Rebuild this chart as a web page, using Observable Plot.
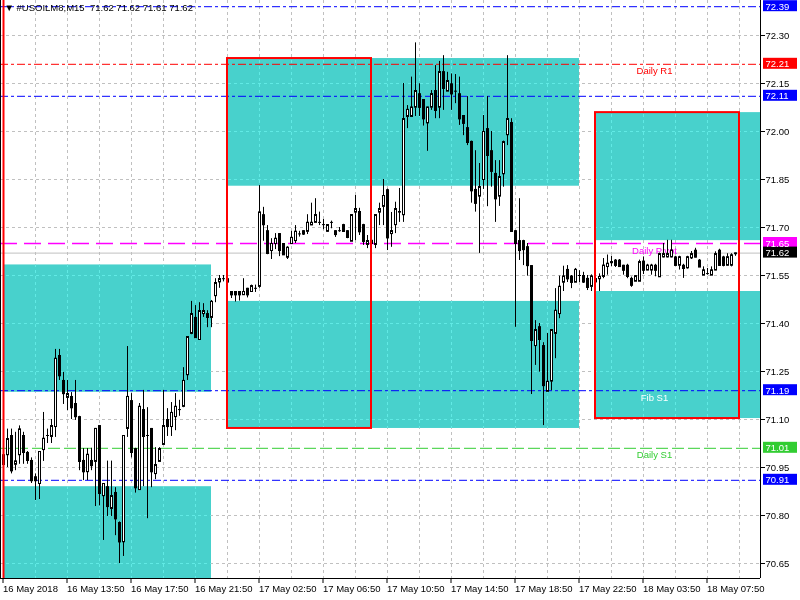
<!DOCTYPE html>
<html>
<head>
<meta charset="utf-8">
<script src="https://cdn.jsdelivr.net/npm/d3@7"></script>
<script src="https://cdn.jsdelivr.net/npm/@observablehq/plot@0.6"></script>
<style>
  html, body { margin: 0; padding: 0; background: white; }
</style>
</head>
<body>
<div id="chart"></div>
<script>
// ---------- DATA ----------
const titleText = "\u25BC #USOILM8,M15  71.62 71.62 71.61 71.62";

const xLabelIdx = [0, 16, 32, 48, 64, 80, 96, 112, 128, 144, 160, 176];
const xLabels = ["16 May 2018", "16 May 13:50", "16 May 17:50", "16 May 21:50", "17 May 02:50", "17 May 06:50",
  "17 May 10:50", "17 May 14:50", "17 May 18:50", "17 May 22:50", "18 May 03:50", "18 May 07:50"];
const gridIdx = d3.range(0, 185, 8);
const yTicks = [72.30, 72.15, 72.00, 71.85, 71.70, 71.55, 71.40, 71.25, 71.10, 70.95, 70.80, 70.65];

const openP = [
70.99, 70.99, 71.05, 70.96, 70.99, 71.05, 70.997, 70.972, 70.921, 70.90,
71.006, 71.05, 71.047, 71.078, 71.30, 71.222, 71.169, 71.172, 71.15, 71.109,
70.972, 70.937, 70.972, 70.969, 71.081, 70.862, 70.89, 70.822, 70.872, 70.778,
70.718, 71.072, 71.159, 71.009, 70.881, 71.131, 71.05, 71.072, 70.931, 70.969,
71.022, 71.10, 71.078, 71.109, 71.131, 71.141, 71.24, 71.369, 71.419, 71.35,
71.431, 71.431, 71.419, 71.487, 71.53, 71.54, 71.54, 71.50, 71.50, 71.50,
71.49, 71.51, 71.50, 71.51, 71.516, 71.74, 71.69, 71.628, 71.65, 71.681,
71.65, 71.607, 71.65, 71.659, 71.68, 71.69, 71.688, 71.708, 71.716, 71.716,
71.709, 71.688, 71.716, 71.69, 71.69, 71.709, 71.69, 71.657, 71.748, 71.75,
71.709, 71.647, 71.66, 71.647, 71.748, 71.766, 71.818, 71.681, 71.709, 71.748,
71.74, 72.047, 72.047, 72.076, 72.118, 72.10, 72.027, 72.076, 72.128, 72.076,
72.187, 72.126, 72.149, 72.126, 72.118, 72.05, 72.012, 71.969, 71.819, 71.798,
71.85, 72.009, 71.94, 71.869, 71.798, 71.868, 71.99, 72.028, 71.69, 71.659,
71.659, 71.64, 71.581, 71.331, 71.39, 71.331, 71.188, 71.22, 71.369, 71.431,
71.529, 71.569, 71.548, 71.529, 71.55, 71.55, 71.541, 71.516, 71.53, 71.54,
71.547, 71.578, 71.59, 71.598, 71.598, 71.582, 71.582, 71.541, 71.532, 71.532,
71.595, 71.567, 71.567, 71.582, 71.546, 71.608, 71.608, 71.608, 71.608, 71.582,
71.582, 71.574, 71.605, 71.629, 71.598, 71.551, 71.556, 71.551, 71.567, 71.629,
71.608, 71.582, 71.582, 71.618
];
const highP = [
71.00, 71.07, 71.07, 71.06, 71.08, 71.06, 71.00, 70.98, 70.93, 71.00,
71.122, 71.07, 71.10, 71.319, 71.319, 71.247, 71.222, 71.184, 71.222, 71.11,
71.009, 71.009, 71.01, 71.072, 71.08, 70.90, 70.97, 70.97, 70.887, 70.78,
71.05, 71.328, 71.181, 71.01, 71.15, 71.191, 71.137, 71.072, 71.012, 71.012,
71.191, 71.134, 71.153, 71.181, 71.16, 71.262, 71.359, 71.469, 71.456, 71.465,
71.462, 71.44, 71.472, 71.54, 71.55, 71.55, 71.55, 71.50, 71.50, 71.50,
71.54, 71.51, 71.52, 71.52, 71.831, 71.763, 71.706, 71.665, 71.681, 71.681,
71.65, 71.64, 71.688, 71.706, 71.688, 71.69, 71.74, 71.776, 71.79, 71.748,
71.725, 71.709, 71.72, 71.69, 71.70, 71.71, 71.69, 71.74, 71.80, 71.76,
71.71, 71.675, 71.67, 71.74, 71.776, 71.85, 71.82, 71.747, 71.779, 71.822,
72.15, 72.081, 72.17, 72.277, 72.149, 72.10, 72.076, 72.128, 72.206, 72.219,
72.237, 72.185, 72.18, 72.178, 72.17, 72.05, 72.109, 71.97, 71.94, 71.90,
72.05, 72.109, 72.00, 71.909, 71.909, 71.97, 72.237, 72.04, 71.69, 71.79,
71.66, 71.65, 71.58, 71.409, 71.40, 71.34, 71.369, 71.381, 71.509, 71.548,
71.579, 71.581, 71.55, 71.572, 71.565, 71.56, 71.55, 71.552, 71.55, 71.555,
71.603, 71.614, 71.61, 71.60, 71.60, 71.582, 71.585, 71.545, 71.549, 71.598,
71.608, 71.585, 71.585, 71.585, 71.62, 71.65, 71.66, 71.66, 71.61, 71.61,
71.585, 71.61, 71.625, 71.635, 71.60, 71.577, 71.572, 71.577, 71.624, 71.632,
71.61, 71.618, 71.618, 71.62
];
const lowP = [
70.94, 70.95, 70.93, 70.94, 70.96, 70.96, 70.96, 70.90, 70.847, 70.85,
70.969, 71.025, 71.025, 71.044, 71.222, 71.147, 71.128, 71.10, 71.097, 70.94,
70.909, 70.909, 70.94, 70.828, 70.83, 70.722, 70.797, 70.797, 70.737, 70.65,
70.672, 71.044, 70.98, 70.87, 70.88, 70.89, 70.79, 70.887, 70.912, 70.969,
71.022, 71.047, 71.047, 71.065, 71.11, 71.137, 71.222, 71.365, 71.356, 71.347,
71.419, 71.387, 71.387, 71.465, 71.51, 71.53, 71.52, 71.478, 71.467, 71.47,
71.49, 71.48, 71.50, 71.497, 71.51, 71.657, 71.615, 71.60, 71.631, 71.609,
71.615, 71.60, 71.647, 71.65, 71.67, 71.675, 71.678, 71.708, 71.716, 71.706,
71.693, 71.685, 71.696, 71.669, 71.685, 71.685, 71.665, 71.657, 71.659, 71.675,
71.644, 71.634, 71.64, 71.634, 71.706, 71.706, 71.628, 71.638, 71.681, 71.716,
71.716, 72.009, 72.047, 72.047, 72.047, 72.017, 71.938, 72.066, 72.04, 72.04,
72.066, 72.126, 72.066, 72.087, 72.019, 71.987, 71.956, 71.776, 71.748, 71.619,
71.819, 71.765, 71.826, 71.716, 71.766, 71.826, 71.956, 71.688, 71.388, 71.597,
71.581, 71.548, 71.178, 71.269, 71.248, 71.081, 71.188, 71.19, 71.29, 71.415,
71.50, 71.528, 71.509, 71.529, 71.528, 71.525, 71.503, 71.50, 71.52, 71.50,
71.54, 71.551, 71.578, 71.575, 71.578, 71.551, 71.54, 71.513, 71.532, 71.532,
71.553, 71.565, 71.551, 71.546, 71.546, 71.605, 71.605, 71.605, 71.58, 71.567,
71.541, 71.57, 71.60, 71.605, 71.575, 71.55, 71.551, 71.55, 71.565, 71.58,
71.577, 71.58, 71.577, 71.61
];
const closeP = [
70.96, 71.04, 70.94, 70.97, 71.07, 70.997, 70.972, 70.909, 70.909, 71.00,
71.041, 71.05, 71.081, 71.291, 71.237, 71.181, 71.181, 71.137, 71.109, 70.969,
70.937, 70.991, 70.956, 71.072, 70.869, 70.90, 70.828, 70.862, 70.79, 70.718,
71.05, 71.172, 70.997, 70.887, 71.141, 71.047, 71.05, 70.937, 70.959, 71.009,
71.081, 71.078, 71.122, 71.141, 71.131, 71.222, 71.359, 71.431, 71.356, 71.44,
71.44, 71.419, 71.469, 71.528, 71.54, 71.54, 71.53, 71.49, 71.49, 71.49,
71.50, 71.49, 71.518, 71.51, 71.748, 71.709, 71.619, 71.65, 71.666, 71.628,
71.615, 71.638, 71.669, 71.688, 71.68, 71.68, 71.716, 71.716, 71.74, 71.716,
71.709, 71.709, 71.716, 71.678, 71.69, 71.688, 71.669, 71.74, 71.759, 71.687,
71.657, 71.659, 71.65, 71.74, 71.759, 71.80, 71.668, 71.69, 71.759, 71.75,
72.04, 72.069, 72.076, 72.128, 72.076, 72.04, 72.076, 72.118, 72.066, 72.187,
72.135, 72.159, 72.118, 72.126, 72.04, 72.026, 71.966, 71.815, 71.776, 71.828,
72.00, 71.925, 71.876, 71.79, 71.859, 71.968, 72.04, 71.688, 71.65, 71.628,
71.631, 71.581, 71.347, 71.381, 71.35, 71.206, 71.219, 71.381, 71.441, 71.516,
71.548, 71.54, 71.529, 71.569, 71.55, 71.53, 71.513, 71.548, 71.54, 71.547,
71.582, 71.588, 71.593, 71.582, 71.578, 71.567, 71.547, 71.52, 71.549, 71.593,
71.567, 71.582, 71.582, 71.567, 71.618, 71.618, 71.618, 71.629, 71.582, 71.608,
71.572, 71.608, 71.618, 71.608, 71.577, 71.567, 71.556, 71.567, 71.618, 71.582,
71.582, 71.608, 71.614, 71.62
];

// supply/demand zones (cyan)
const zoneX1 = [0, 0, 56, 56, 148, 148];
const zoneX2 = [52, 52, 144, 144, 189.25, 189.25];
const zoneTop = [71.583, 70.890, 72.228, 71.469, 72.059, 71.500];
const zoneBottom = [71.185, 70.600, 71.829, 71.072, 71.659, 71.103];

// red session boxes
const boxX1 = [56, 148];
const boxX2 = [92, 184];
const boxTop = [72.228, 72.059];
const boxBottom = [71.072, 71.103];

// horizontal levels
const dashDotValues = [72.39, 72.21, 72.11, 71.19, 70.91];
const dashDotColors = ["#0000ff", "#ff0000", "#0000ff", "#0000ff", "#0000ff"];
const pivotValue = 71.65;
const s1Value = 71.01;
const bidValue = 71.62;

const levelNames = ["Daily R1", "Daily Pivot", "Fib S1", "Daily S1"];
const levelNameValues = [72.21, 71.65, 71.19, 71.01];
const levelNameColors = ["#ff0000", "#ff00ff", "#ffffff", "#32cd32"];

const priceTagValues = [72.39, 72.21, 72.11, 71.65, 71.62, 71.19, 71.01, 70.91];
const priceTagColors = ["#0000ff", "#ff0000", "#0000ff", "#ff00ff", "#000000", "#0000ff", "#32cd32", "#0000ff"];

// ---------- BUILD ----------
const xMin = -0.75, xMax = 189.25;
const yMin = 70.603125, yMax = 72.409375;

const candles = openP.map((o, i) => ({i, o, h: highP[i], l: lowP[i], c: closeP[i]}));
const zones = zoneX1.map((x1, k) => ({x1, x2: zoneX2[k], y1: zoneTop[k], y2: zoneBottom[k]}));
const boxes = boxX1.map((x1, k) => ({x1, x2: boxX2[k], y1: boxTop[k], y2: boxBottom[k]}));
const dashDot = dashDotValues.map((v, k) => ({v, color: dashDotColors[k]}));
const names = levelNames.map((name, k) => ({name, v: levelNameValues[k], color: levelNameColors[k]}));
const tags = priceTagValues.map((v, k) => ({v, color: priceTagColors[k]}));

const chart = Plot.plot({
  width: 800,
  height: 600,
  marginLeft: 0,
  marginRight: 40,
  marginTop: 0,
  marginBottom: 22,
  x: {domain: [xMin, xMax], axis: null},
  y: {domain: [yMin, yMax], axis: null},
  color: {type: "identity"},
  style: {background: "white", fontFamily: "'Liberation Sans', Arial, sans-serif", fontSize: "9.5px", color: "black"},
  marks: [
    Plot.frame({fill: "white", stroke: null}),
    Plot.rect(zones, {x1: "x1", x2: "x2", y1: "y1", y2: "y2", fill: "#48D1CC", clip: true}),
    Plot.ruleY(yTicks, {stroke: "#c0c0c0", strokeDasharray: "3,3", mixBlendMode: "luminosity"}),
    Plot.ruleX(gridIdx, {stroke: "#c0c0c0", strokeDasharray: "3,3", mixBlendMode: "luminosity"}),
    Plot.ruleY(dashDot, {y: "v", stroke: "color", strokeDasharray: "8,3,3,3"}),
    Plot.ruleY([bidValue], {stroke: "#c0c0c0"}),
    Plot.ruleY([pivotValue], {stroke: "#ff00ff", strokeWidth: 1.3, strokeDasharray: "17,7"}),
    Plot.ruleY([s1Value], {stroke: "#32cd32", strokeDasharray: "12,4"}),
    Plot.text(names, {x: () => 162.75, y: "v", text: "name", fill: "color", dy: 7, textAnchor: "middle"}),
    // candles
    Plot.ruleX(candles, {x: "i", y1: "l", y2: "h", stroke: "black"}),
    Plot.rect(candles, {x1: d => d.i - 0.25, x2: d => d.i + 0.25, y1: "o", y2: "c",
      fill: d => d.c >= d.o ? "white" : "black", stroke: "black", strokeWidth: 1, dx: 0.5, dy: 0.5}),
    Plot.link(candles, {x1: d => d.i - 0.375, x2: d => d.i + 0.375, y1: "c", y2: "c", stroke: "black"}),
    // red boxes
    Plot.rect(boxes, {x1: "x1", x2: "x2", y1: "y1", y2: "y2", fill: "none", stroke: "#ff0000", strokeWidth: 2}),
    Plot.ruleX([0], {stroke: "#ff0000", strokeWidth: 2}),
    // frame lines
    Plot.ruleX([xMin], {stroke: "black"}),
    Plot.ruleX([xMax], {stroke: "black"}),
    Plot.ruleY([yMin], {stroke: "black"}),
    // axes
    Plot.axisY(yTicks, {anchor: "right", tickSize: 4, tickPadding: 1, label: null,
      tickFormat: d => d.toFixed(2), fill: "black"}),
    Plot.axisX(xLabelIdx, {anchor: "bottom", tickSize: 5, tickPadding: 2, label: null, textAnchor: "start", dx: -0.5,
      tickFormat: d => xLabels[xLabelIdx.indexOf(d)], fill: "black"}),
    // price tags on right axis
    Plot.rect(tags, {x1: () => xMax, x2: () => xMax, y1: "v", y2: "v", fill: "color",
      insetLeft: 3, insetRight: -37, insetTop: -6, insetBottom: -5}),
    Plot.text(tags, {x: () => xMax, y: "v", text: d => d.v.toFixed(2), fill: "white", dx: 5, textAnchor: "start"}),
    // title
    Plot.text([titleText], {text: d => d, frameAnchor: "top-left", dx: 4, dy: 4, lineAnchor: "top", textAnchor: "start", fill: "black"})
  ]
});
document.getElementById("chart").appendChild(chart);
</script>
</body>
</html>
